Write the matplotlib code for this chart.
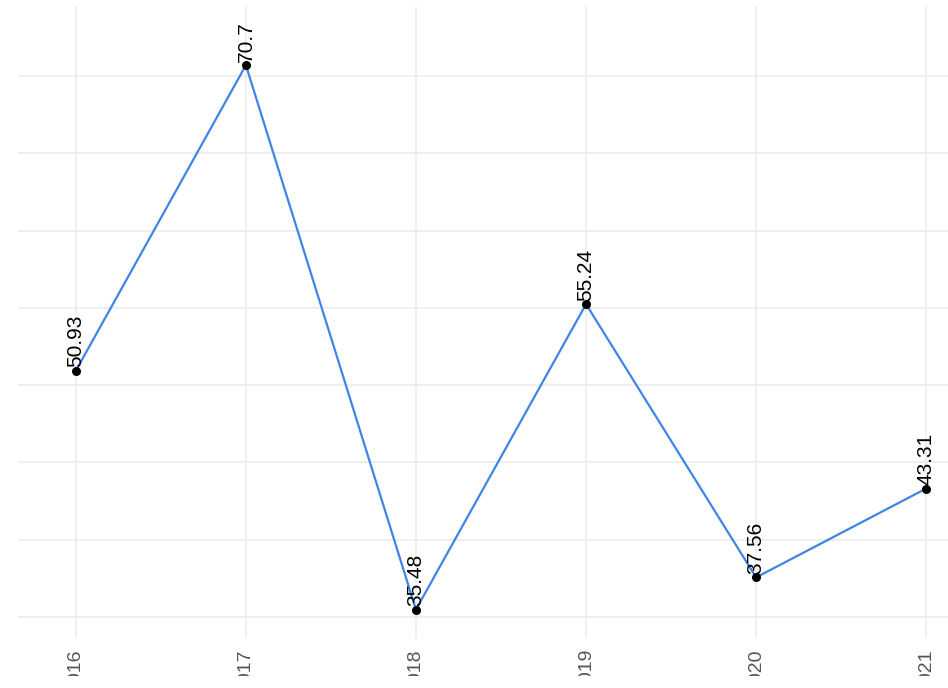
import numpy as np
import matplotlib.pyplot as plt
from matplotlib.patches import Rectangle

# Data
years = [2016, 2017, 2018, 2019, 2020, 2021]
values = [50.93, 70.7, 35.48, 55.24, 37.56, 43.31]
value_labels = ["50.93", "70.7", "35.48", "55.24", "37.56", "43.31"]
y_ticks = [35, 40, 45, 50, 55, 60, 65, 70]

plt.rcParams['font.family'] = ['Liberation Sans', 'DejaVu Sans']

fig = plt.figure(figsize=(9.48, 6.88), dpi=100)
# panel runs past the right edge, y labels lie off the canvas on the left
ax = fig.add_axes([18 / 948, 50 / 688, 966 / 948, 632 / 688])

ax.plot(years, values, color='#3d85e6', linewidth=1.6, zorder=3)
ax.scatter(years, values, color='black', s=30, zorder=4)

for x, y, lab in zip(years, values, value_labels):
    ax.annotate(lab, (x, y), xytext=(0, 2.5), textcoords='offset points',
                rotation=90, ha='center', va='bottom', fontsize=15, color='black',
                zorder=5)

ax.set_xlim(2015.66, 2021.34)
ax.set_ylim(33.64, 74.53)
ax.set_xticks(years)
ax.set_xticklabels([str(y) for y in years], rotation=90, va='top')
ax.set_yticks(y_ticks)
ax.set_yticklabels([])

ax.grid(True, color='#ebebeb', linewidth=1.1)
ax.set_axisbelow(True)
ax.tick_params(length=0, labelsize=14, labelcolor='#555555', pad=8)
for s in ax.spines.values():
    s.set_visible(False)

# the original picture is cut off just below the year labels
fig.add_artist(Rectangle((0, 0), 1, 12 / 688, transform=fig.transFigure,
                         facecolor='white', edgecolor='none', zorder=10))

fig.savefig('out.png', dpi=100)
